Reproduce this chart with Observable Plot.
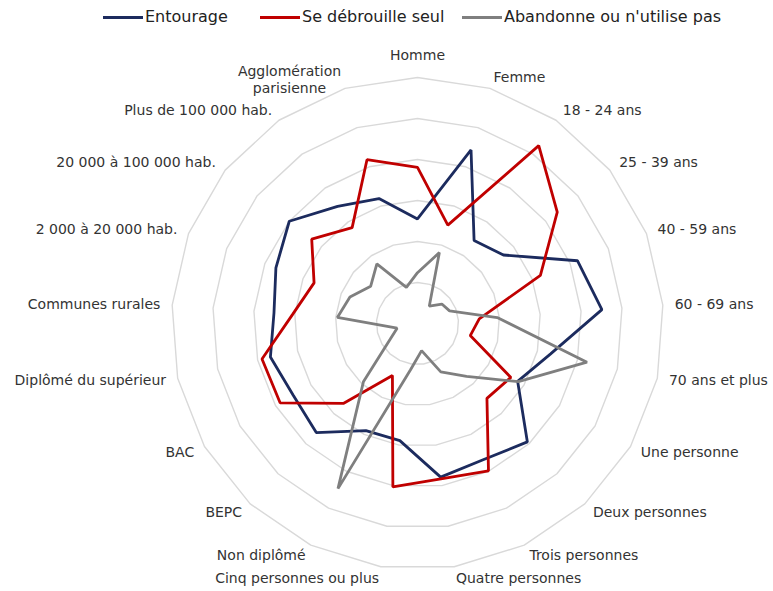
<!DOCTYPE html>
<html><head><meta charset="utf-8">
<script src="https://cdn.jsdelivr.net/npm/d3@7"></script>
<script src="https://cdn.jsdelivr.net/npm/@observablehq/plot@0.6"></script>
<style>
body{margin:0;background:#fff;width:773px;height:591px;overflow:hidden;font-family:"DejaVu Sans",Verdana,sans-serif}
#legend{position:relative;height:36px}
.item{position:absolute;top:7px;display:flex;align-items:center;font-size:16px;color:#222;white-space:nowrap;line-height:20px}
.sw{display:inline-block;width:40px;height:3px;margin-right:2px}
#chart svg{display:block}
</style></head><body>
<div id="legend"></div>
<div id="chart"></div>
<script>
const categories = ["Homme","Femme","18 - 24 ans","25 - 39 ans","40 - 59 ans","60 - 69 ans","70 ans et plus","Une personne","Deux personnes","Trois personnes","Quatre personnes","Cinq personnes ou plus","Non diplômé","BEPC","BAC","Diplômé du supérieur","Communes rurales","2 000 à 20 000 hab.","20 000 à 100 000 hab.","Plus de 100 000 hab.","Agglomération\nparisienne"];
const entourage = [25.5, 44.3, 24.5, 26.8, 41.9, 45.1, 33.3, 28.2, 39.4, 36.9, 37.9, 28.9, 29.0, 36.3, 35.0, 36.8, 35.1, 37.1, 40.0, 34.6, 31.9];
const seul      = [38.1, 25.1, 52.5, 43.6, 32.2, 15.1, 13.2, 26.3, 24.9, 39.9, 38.3, 40.3, 14.1, 26.6, 38.7, 38.9, 30.5, 27.1, 33.0, 28.3, 41.8];
const abandonne = [12.4, 18.1, 5.1, 7.6, 8.4, 19.5, 42.4, 28.4, 17.6, 13.1, 6.7, 11.4, 44.7, 19.4, 7.7, 5.1, 19.6, 17.7, 14.6, 17.6, 9.2];
const seriesNames = ["Entourage", "Se débrouille seul", "Abandonne ou n'utilise pas"];
const seriesColors = ["#1c2b5e", "#c00000", "#7f7f7f"];
const gridLevels = [10, 20, 30, 40, 50, 60];
const rMax = 60;
const labelRadius = 62.9;

const n = categories.length;
const lon = (i) => 180 - i * 360 / n;
const lat = (v) => 90 - v;

const values = [entourage, seul, abandonne];
const rows = seriesNames.flatMap((s, k) => values[k].map((v, i) => ({series: s, i, value: v})));
const grid = gridLevels.flatMap(level => categories.map((c, i) => ({level, i})));
const labels = categories.map((c, i) => ({text: c, i}));

// legend
const legendLefts = [103, 260, 462];
const legend = document.getElementById("legend");
seriesNames.forEach((s, k) => {
  const it = document.createElement("div");
  it.className = "item";
  it.style.left = legendLefts[k] + "px";
  const sw = document.createElement("span");
  sw.className = "sw";
  sw.style.background = seriesColors[k];
  it.appendChild(sw);
  it.appendChild(document.createTextNode(s));
  legend.appendChild(it);
});

const textStyle = {fontSize: 14, fill: "#333", fontFamily: "DejaVu Sans, Verdana, sans-serif"};

const chart = Plot.plot({
  width: 773,
  height: 555,
  margin: 0,
  projection: {
    type: "azimuthal-equidistant",
    rotate: [0, -90],
    insetTop: 41,
    insetBottom: 22,
    insetLeft: 141,
    insetRight: 80,
    domain: d3.geoCircle().center([0, 90]).radius(rMax)()
  },
  color: {domain: seriesNames, range: seriesColors},
  marks: [
    Plot.line(grid, {x: d => lon(d.i), y: d => lat(d.level), z: "level", stroke: "#d9d9d9", strokeWidth: 1.4, curve: "linear-closed"}),
    Plot.line(rows, {x: d => lon(d.i), y: d => lat(d.value), z: "series", stroke: "series", strokeWidth: 2.8, curve: "linear-closed", strokeLinejoin: "miter"}),
    Plot.text(labels.filter(d => d.i === 0), {x: d => lon(d.i), y: lat(labelRadius), text: "text", textAnchor: "middle", dy: -10, ...textStyle}),
    Plot.text(labels.filter(d => d.i >= 1 && d.i <= 10), {x: d => lon(d.i), y: lat(labelRadius), text: "text", textAnchor: "start", ...textStyle}),
    Plot.text(labels.filter(d => d.i >= 11 && d.i <= 19), {x: d => lon(d.i), y: lat(labelRadius), text: "text", textAnchor: "end", ...textStyle}),
    Plot.text(labels.filter(d => d.i === 20), {x: d => lon(d.i), y: lat(labelRadius), text: "text", textAnchor: "middle", dx: -52, dy: 2, lineHeight: 1.22, ...textStyle})
  ]
});
document.getElementById("chart").appendChild(chart);
</script>
</body></html>
